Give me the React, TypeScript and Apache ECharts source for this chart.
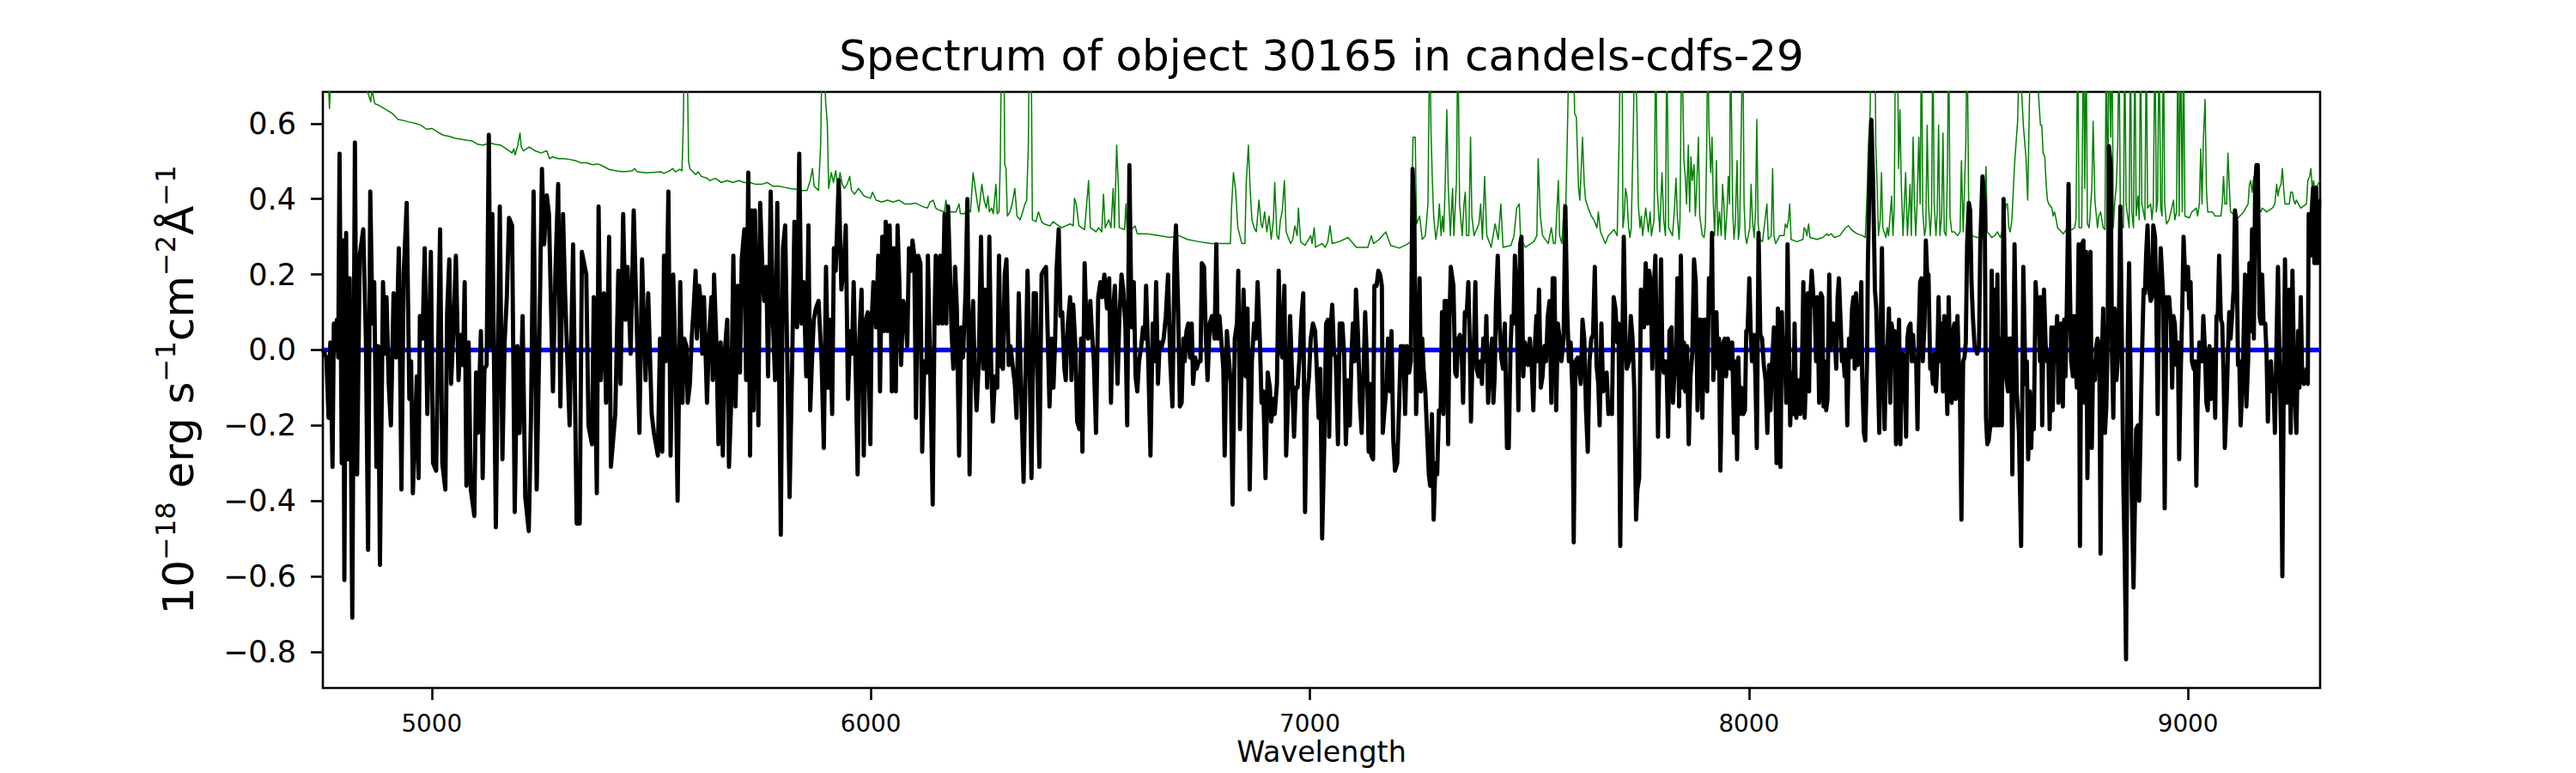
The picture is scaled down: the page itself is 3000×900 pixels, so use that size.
import React, { useEffect, useRef } from "react";
import * as echarts from "echarts";

const titleText = "Spectrum of object 30165 in candels-cdfs-29";
const xAxisTitle = "Wavelength";
const xTicks = [5000, 6000, 7000, 8000, 9000];
const yTicks = [-0.8, -0.6, -0.4, -0.2, 0, 0.2, 0.4, 0.6];
const xRange = [4752, 9301];
const yRange = [-0.896, 0.684];

// model (blue): flat zero line
const modelPts = [[4752, 0], [9301, 0]];

const fluxA = [[4752,0.00],[4760,-0.02],[4765,-0.18],[4769,0.02],[4774,-0.31],[4777,0.07],[4780,0.03],[4784,0.08],[4787,-0.02],[4790,0.52],[4795,-0.30],[4798,0.29],[4801,-0.61],[4805,0.31],[4808,-0.29],[4813,0.19],[4819,-0.71],[4825,0.55],[4830,-0.33],[4836,0.25],[4844,0.32],[4850,0.03],[4855,-0.53],[4860,0.42],[4865,0.07],[4869,0.18],[4874,-0.31],[4878,0.01],[4882,-0.57],[4889,0.18],[4894,-0.01],[4897,0.14],[4902,-0.09],[4907,-0.20],[4913,0.15],[4919,-0.02],[4925,0.27],[4931,-0.37],[4936,0.20],[4943,0.39],[4949,-0.13],[4953,-0.03],[4957,-0.38],[4966,-0.07],[4970,-0.34],[4973,0.09],[4979,0.03],[4984,0.27],[4990,-0.17],[4998,0.26],[5003,-0.30],[5010,-0.32],[5019,0.32],[5024,-0.30],[5031,-0.37],[5035,0.10],[5040,0.24],[5044,-0.09],[5049,0.04],[5055,0.25],[5061,-0.08],[5066,0.04],[5071,-0.04],[5075,0.18],[5079,-0.36],[5084,0.02],[5089,-0.37],[5097,-0.44],[5101,-0.06],[5105,-0.22],[5112,0.05],[5116,-0.34],[5120,-0.05],[5125,-0.04],[5130,0.57],[5134,0.01],[5138,0.36],[5146,-0.47],[5155,0.38],[5161,-0.29],[5166,0.02],[5171,0.14],[5176,0.35],[5183,0.33],[5189,-0.43],[5195,0.01],[5200,-0.22],[5207,0.09],[5213,-0.39],[5221,-0.48],[5226,-0.18],[5232,0.42],[5239,-0.37],[5245,0.02],[5251,0.48],[5256,0.28],[5262,0.41],[5267,0.36],[5276,-0.11],[5282,0.22],[5288,0.44],[5293,-0.15],[5299,0.36],[5304,0.14],[5314,-0.20],[5322,0.28],[5330,-0.46],[5337,-0.46],[5342,0.26],[5352,0.20],[5357,-0.20],[5365,-0.25],[5369,0.14],[5376,-0.38],[5380,0.38],[5385,-0.08],[5392,0.15],[5397,-0.14],[5404,0.30],[5408,-0.31],[5418,-0.17],[5425,0.21],[5430,-0.09],[5436,0.36],[5441,0.08],[5446,0.22],[5453,-0.01],[5460,0.37],[5466,0.11],[5473,-0.22],[5479,0.24],[5487,-0.08],[5493,0.15],[5501,-0.17],[5506,-0.22],[5515,-0.28],[5520,0.03]];
const fluxB = [[5525,-0.27],[5529,0.25],[5533,-0.03],[5539,0.42],[5544,-0.28],[5550,0.20],[5555,-0.02],[5560,-0.40],[5566,0.18],[5571,-0.14],[5575,0.03],[5580,0.01],[5583,-0.14],[5588,-0.09],[5592,0.03],[5596,0.10],[5601,0.21],[5604,0.03],[5609,0.17],[5614,0.11],[5616,-0.01],[5620,0.14],[5627,-0.14],[5631,0.02],[5637,0.14],[5640,-0.08],[5643,0.20],[5648,0.03],[5653,-0.25],[5658,0.02],[5663,-0.28],[5667,-0.01],[5673,0.08],[5677,-0.31],[5682,-0.14],[5687,0.25],[5692,-0.15],[5697,0.17],[5702,-0.06],[5706,0.24],[5712,0.32],[5716,-0.08],[5721,0.47],[5725,-0.28],[5729,0.37],[5733,-0.16],[5736,0.37],[5741,0.07],[5744,-0.20],[5748,0.39],[5753,0.22],[5757,0.13],[5762,0.22],[5766,-0.07],[5772,0.42],[5777,0.08],[5782,-0.08],[5787,0.39],[5791,-0.03],[5795,-0.49],[5800,0.27],[5805,0.33],[5809,0.03],[5815,-0.39],[5821,-0.03],[5826,0.34],[5832,0.06],[5837,0.52],[5842,0.07],[5847,0.18],[5853,-0.07],[5858,0.33],[5862,-0.16],[5866,-0.03],[5870,0.08],[5875,0.11],[5881,0.13],[5888,-0.03],[5893,-0.26],[5898,0.22],[5903,-0.10],[5907,0.08],[5912,-0.17],[5916,0.27],[5920,0.21],[5927,0.45],[5933,0.16],[5939,0.23],[5943,0.33],[5948,-0.13],[5953,0.05],[5957,-0.01],[5961,0.18],[5966,-0.08],[5970,-0.33],[5974,0.03],[5979,0.16],[5984,-0.28],[5989,0.08],[5993,0.10],[5999,-0.25],[6002,0.08],[6006,0.18],[6012,0.06],[6017,0.25],[6021,-0.11],[6026,0.30],[6030,0.05],[6034,0.34],[6038,0.05],[6043,0.33],[6048,-0.11],[6052,0.27],[6057,-0.11],[6061,0.33],[6065,0.18],[6069,-0.04],[6074,0.13],[6078,0.11],[6083,0.01],[6087,0.27],[6092,0.21],[6095,0.29],[6099,0.25],[6103,-0.18],[6108,0.25],[6113,0.23],[6117,-0.27],[6122,-0.03],[6127,-0.06],[6130,0.25],[6135,-0.03],[6141,-0.41],[6145,0.07],[6148,0.25],[6154,0.07],[6158,0.25],[6163,0.07],[6168,0.36],[6172,0.07],[6176,0.38],[6181,0.18],[6184,0.05],[6188,-0.05],[6192,0.22],[6196,0.11],[6201,-0.28],[6206,0.06],[6210,-0.02],[6216,0.16],[6220,0.40],[6225,-0.33],[6229,0.03],[6233,0.13],[6236,-0.03],[6241,-0.16],[6246,-0.03],[6251,0.30],[6256,-0.05],[6261,0.16]];
const fluxC = [[6265,-0.10],[6270,0.30],[6274,-0.03],[6278,-0.19],[6283,-0.07],[6288,-0.10],[6292,0.25],[6296,-0.04],[6301,-0.05],[6305,0.20],[6309,0.24],[6314,-0.04],[6318,0.01],[6324,-0.05],[6328,-0.09],[6332,-0.18],[6337,0.15],[6342,-0.09],[6348,-0.35],[6353,-0.03],[6357,0.21],[6362,-0.06],[6366,-0.34],[6371,0.15],[6376,0.15],[6379,-0.05],[6384,-0.31],[6389,0.20],[6393,0.21],[6399,0.22],[6403,0.04],[6407,-0.15],[6412,0.03],[6416,-0.10],[6420,0.03],[6423,0.21],[6428,0.32],[6432,0.09],[6436,0.10],[6441,-0.05],[6444,-0.08],[6449,0.07],[6454,0.14],[6457,-0.08],[6461,0.12],[6466,0.01],[6470,-0.19],[6475,-0.21],[6479,0.03],[6482,-0.27],[6487,0.23],[6491,0.07],[6495,0.03],[6500,0.13],[6503,0.06],[6508,-0.03],[6513,-0.22],[6518,0.14],[6523,0.18],[6527,0.14],[6532,0.20],[6538,0.11],[6543,0.19],[6547,-0.14],[6552,0.11],[6556,0.17],[6562,-0.09],[6566,0.08],[6571,0.20],[6575,0.16],[6580,0.06],[6584,-0.20],[6589,0.49],[6594,0.06],[6599,0.18],[6603,-0.07],[6607,-0.11],[6611,-0.03],[6616,0.01],[6620,0.06],[6624,0.03],[6627,0.17],[6632,-0.03],[6637,-0.28],[6642,0.07],[6646,-0.03],[6650,0.18],[6654,-0.09],[6658,0.02],[6663,0.01],[6667,0.03],[6672,0.09],[6677,0.20],[6682,-0.03],[6687,-0.15],[6692,0.25],[6695,0.33],[6700,0.11],[6704,-0.15],[6708,-0.14],[6712,0.03],[6715,-0.03],[6719,0.05],[6723,0.07],[6727,-0.02],[6731,0.07],[6734,-0.09],[6739,-0.02],[6742,-0.05],[6747,-0.03],[6751,-0.03],[6754,0.23],[6759,0.22],[6763,0.04],[6767,-0.08],[6772,0.07],[6777,0.09],[6783,0.03],[6787,0.28],[6790,0.03],[6794,0.09],[6798,0.03],[6803,-0.05],[6806,-0.28],[6811,0.05],[6816,-0.03],[6820,-0.09],[6824,-0.41],[6829,0.03],[6834,0.07],[6837,0.21],[6841,-0.21],[6845,-0.03],[6849,0.16],[6854,-0.07],[6858,0.11],[6863,-0.37],[6868,-0.03],[6873,0.07],[6877,0.03],[6881,0.18],[6886,0.03],[6890,-0.14],[6894,-0.11],[6899,-0.34],[6904,-0.06],[6909,-0.10],[6912,-0.19],[6917,-0.13],[6920,-0.17],[6925,-0.09],[6929,0.21],[6933,0.01],[6937,-0.02],[6942,0.17],[6946,-0.28],[6950,-0.14],[6955,0.09],[6959,-0.05],[6964,-0.23],[6968,-0.10],[6972,-0.10],[6977,-0.01],[6981,0.09],[6985,0.15],[6989,-0.43],[6993,-0.14],[6998,-0.07],[7002,0.03],[7007,0.07],[7012,0.05],[7015,-0.03],[7020,-0.18],[7024,-0.05],[7028,-0.50],[7033,-0.24],[7037,0.07],[7041,0.08]];
const fluxD = [[7044,-0.23],[7048,0.07],[7051,0.12],[7055,-0.01],[7059,-0.02],[7064,-0.25],[7068,0.07],[7074,0.07],[7078,-0.01],[7082,-0.25],[7087,-0.08],[7091,-0.20],[7095,-0.01],[7098,0.07],[7102,-0.03],[7105,0.16],[7110,0.03],[7114,-0.14],[7118,-0.22],[7123,-0.03],[7126,0.10],[7130,-0.03],[7134,-0.27],[7138,-0.09],[7140,-0.28],[7144,-0.29],[7147,0.17],[7152,0.17],[7156,0.21],[7160,0.20],[7164,0.17],[7166,-0.22],[7170,-0.16],[7175,-0.09],[7178,0.03],[7183,-0.11],[7186,0.05],[7190,-0.24],[7194,-0.32],[7199,-0.30],[7203,-0.16],[7207,0.01],[7211,-0.05],[7213,0.01],[7217,-0.17],[7221,0.01],[7224,-0.03],[7226,-0.06],[7230,-0.03],[7234,0.48],[7238,0.36],[7242,-0.17],[7246,-0.03],[7250,0.19],[7253,-0.11],[7256,0.03],[7259,-0.05],[7263,-0.11],[7267,-0.22],[7271,-0.33],[7274,-0.36],[7278,-0.17],[7282,-0.45],[7286,-0.30],[7290,-0.33],[7294,-0.16],[7298,-0.16],[7301,0.10],[7304,-0.17],[7307,0.13],[7311,0.13],[7315,-0.25],[7318,0.08],[7321,0.22],[7327,0.17],[7331,-0.06],[7334,-0.07],[7338,0.03],[7342,0.04],[7346,-0.01],[7349,-0.14],[7353,0.10],[7357,0.09],[7361,0.18],[7364,0.03],[7367,-0.19],[7370,-0.04],[7374,0.03],[7377,0.18],[7380,-0.05],[7384,-0.07],[7388,-0.03],[7392,-0.09],[7395,0.03],[7399,-0.03],[7402,0.09],[7406,-0.14],[7411,-0.02],[7415,0.03],[7418,-0.14],[7421,-0.07],[7424,0.13],[7428,0.25],[7432,0.07],[7436,-0.02],[7440,-0.05],[7444,0.07],[7449,-0.26],[7453,-0.26],[7457,0.00],[7460,0.09],[7464,0.07],[7467,0.25],[7471,0.15],[7475,-0.16],[7479,0.28],[7482,0.30],[7486,-0.07],[7490,0.02],[7494,-0.03],[7497,-0.04],[7501,0.03],[7505,-0.03],[7509,-0.16],[7513,0.02],[7516,0.09],[7518,-0.03],[7522,0.16],[7526,-0.10],[7530,-0.07],[7534,0.01],[7538,-0.03],[7542,0.09],[7546,0.13],[7550,-0.14],[7553,0.19],[7557,0.19],[7561,-0.16],[7565,0.07],[7569,0.03],[7573,-0.03],[7578,0.03],[7582,0.38],[7586,0.11],[7590,-0.03],[7594,0.02],[7598,-0.11],[7601,-0.51],[7605,-0.03],[7610,-0.02],[7613,-0.05],[7617,-0.09],[7621,0.08],[7625,0.03],[7629,-0.16],[7633,-0.27],[7637,-0.03],[7641,0.03],[7645,0.04],[7649,0.22],[7653,-0.04],[7657,-0.09],[7660,-0.20],[7664,0.07],[7668,-0.11],[7672,-0.07],[7676,-0.06],[7680,-0.17],[7684,-0.14],[7688,-0.17],[7692,0.14],[7696,0.11],[7700,0.02],[7703,0.07],[7707,-0.52],[7711,-0.06],[7715,0.30],[7719,0.02],[7722,-0.05],[7727,-0.03],[7731,0.09],[7735,0.03],[7739,-0.11],[7743,-0.45],[7746,-0.37],[7750,-0.34],[7754,0.16],[7757,0.11],[7761,0.06],[7765,0.23],[7769,0.07],[7773,0.21],[7776,0.18],[7780,-0.05],[7783,0.15],[7787,0.25]];
const fluxE = [[7793,-0.23],[7797,0.03],[7800,0.24],[7803,-0.03],[7806,-0.06],[7810,-0.03],[7813,-0.07],[7816,-0.23],[7819,0.05],[7824,0.06],[7827,-0.14],[7830,-0.07],[7834,-0.05],[7837,0.19],[7841,-0.15],[7845,0.25],[7849,-0.10],[7852,0.02],[7855,-0.11],[7859,0.01],[7863,-0.25],[7867,-0.07],[7871,-0.01],[7875,0.24],[7879,0.18],[7883,-0.16],[7886,0.08],[7890,0.08],[7894,-0.18],[7898,0.08],[7901,0.08],[7905,-0.11],[7909,0.19],[7913,0.10],[7916,0.31],[7919,-0.08],[7922,0.06],[7926,0.10],[7929,-0.05],[7932,0.03],[7935,-0.32],[7939,-0.07],[7942,0.02],[7945,0.03],[7948,-0.07],[7952,0.03],[7955,0.01],[7958,-0.05],[7962,0.02],[7966,-0.22],[7970,-0.03],[7973,-0.29],[7976,-0.02],[7979,-0.17],[7983,-0.10],[7987,-0.17],[7991,-0.16],[7994,0.05],[7997,0.05],[8001,0.19],[8004,0.05],[8007,-0.03],[8012,0.04],[8015,-0.08],[8018,-0.26],[8022,0.31],[8026,0.04],[8030,0.03],[8034,-0.04],[8038,-0.08],[8042,-0.22],[8046,-0.04],[8049,-0.16],[8053,-0.03],[8057,0.06],[8060,-0.07],[8063,-0.30],[8066,0.11],[8069,-0.28],[8072,-0.31],[8075,0.10],[8078,-0.05],[8081,0.03],[8085,-0.14],[8088,0.28],[8091,0.03],[8094,-0.20],[8098,-0.06],[8101,-0.17],[8104,0.07],[8108,-0.18],[8111,-0.14],[8114,-0.08],[8117,-0.17],[8121,-0.03],[8124,0.18],[8127,-0.18],[8130,-0.07],[8134,0.15],[8137,-0.11],[8140,0.14],[8143,0.21],[8147,0.14],[8150,0.11],[8153,-0.03],[8156,0.14],[8160,-0.14],[8164,0.15],[8167,0.14],[8170,-0.15],[8173,-0.03],[8176,-0.16],[8179,-0.13],[8183,0.20],[8186,0.00],[8189,0.05],[8192,0.07],[8196,0.02],[8199,-0.05],[8202,0.14],[8205,0.19],[8209,0.07],[8212,-0.03],[8215,-0.01],[8218,-0.07],[8221,0.00],[8224,-0.20],[8228,0.03],[8231,-0.02],[8235,0.11],[8238,0.14],[8241,-0.05],[8244,0.15],[8248,-0.04],[8252,0.03],[8256,0.18],[8258,-0.07],[8262,-0.22],[8265,-0.24],[8269,-0.03],[8271,0.23],[8274,0.41],[8279,0.61],[8283,0.44],[8287,0.16],[8290,0.11],[8293,-0.03],[8297,-0.22],[8300,0.03],[8303,0.27],[8306,-0.03],[8309,-0.21],[8312,-0.05],[8316,0.02],[8319,0.11],[8322,-0.14],[8325,0.07],[8329,0.02],[8332,0.05],[8335,-0.25],[8338,-0.05],[8342,0.08],[8345,-0.25],[8348,-0.08],[8351,-0.01],[8355,-0.03],[8358,-0.23],[8361,0.03],[8364,0.06],[8368,0.07],[8371,-0.03],[8374,0.04],[8377,-0.03],[8381,-0.03],[8384,-0.21],[8387,0.05],[8390,0.18],[8393,0.19],[8396,-0.03],[8400,0.07],[8403,0.29],[8406,0.20],[8409,0.20],[8413,-0.05],[8416,-0.03],[8419,-0.09],[8422,-0.01],[8426,-0.11],[8429,-0.03],[8432,0.14],[8435,-0.03],[8439,0.07],[8442,-0.11],[8445,0.09],[8449,-0.05],[8452,-0.17],[8455,0.14],[8458,-0.03],[8462,-0.14],[8465,0.05],[8468,0.07],[8471,-0.13],[8475,0.09],[8478,-0.03],[8481,-0.14],[8484,-0.45],[8488,-0.03],[8491,-0.02],[8494,0.02],[8497,0.28],[8501,0.39],[8504,0.37],[8507,0.18],[8510,0.09],[8514,0.01],[8517,0.00],[8520,-0.01],[8524,0.01],[8527,0.28],[8532,0.46],[8537,0.39],[8540,-0.18],[8543,-0.25],[8546,-0.24],[8550,-0.20],[8553,0.21]];
const fluxF = [[8556,-0.20],[8560,0.16],[8563,-0.20],[8566,0.20],[8569,-0.20],[8573,0.03],[8576,-0.20],[8580,0.40],[8586,-0.07],[8590,-0.11],[8593,0.03],[8597,0.03],[8600,-0.33],[8605,0.28],[8610,-0.11],[8615,-0.22],[8620,-0.52],[8625,0.22],[8630,-0.09],[8633,-0.03],[8636,-0.29],[8640,-0.11],[8643,-0.26],[8646,-0.13],[8649,-0.21],[8653,0.18],[8656,0.11],[8659,0.14],[8663,-0.03],[8665,0.14],[8668,-0.20],[8672,0.16],[8676,0.01],[8679,-0.03],[8682,-0.01],[8685,-0.21],[8689,0.06],[8692,-0.16],[8695,0.06],[8698,-0.03],[8702,0.09],[8705,-0.14],[8708,-0.03],[8711,0.07],[8715,-0.15],[8718,0.08],[8721,-0.07],[8724,0.11],[8728,0.44],[8731,0.18],[8734,-0.03],[8738,-0.07],[8741,0.09],[8744,-0.03],[8747,-0.10],[8751,0.28],[8754,-0.52],[8758,0.28],[8762,0.29],[8765,-0.14],[8768,0.26],[8771,-0.34],[8775,0.07],[8778,0.26],[8781,-0.26],[8784,-0.03],[8788,-0.08],[8791,0.01],[8794,0.03],[8798,0.01],[8801,-0.54],[8804,-0.01],[8807,0.11],[8811,-0.22],[8814,-0.15],[8817,0.02],[8820,0.54],[8824,0.49],[8827,-0.01],[8830,-0.18],[8833,0.11],[8837,-0.08],[8840,-0.03],[8843,0.11],[8846,0.38],[8850,-0.03],[8853,-0.37],[8856,-0.55],[8859,-0.82],[8863,0.03],[8866,0.23],[8869,-0.05],[8872,-0.38],[8876,-0.63],[8879,-0.42],[8882,-0.21],[8886,-0.20],[8889,-0.40],[8892,-0.22],[8895,-0.03],[8899,0.16],[8902,0.15],[8905,0.26],[8908,0.33],[8912,0.16],[8915,0.13],[8918,0.14],[8921,0.33],[8925,0.30],[8928,0.11],[8931,-0.17],[8934,0.11],[8938,0.27],[8941,0.20],[8944,0.13],[8947,-0.42],[8951,0.14],[8954,0.10],[8957,0.14],[8961,0.07],[8964,-0.10],[8967,0.09],[8970,0.07],[8974,-0.04],[8977,0.02],[8980,-0.29],[8983,-0.09],[8987,0.11],[8990,0.30],[8993,0.21],[8996,0.16],[9000,0.22],[9003,0.11],[9006,0.18],[9009,-0.03],[9013,-0.05],[9016,-0.03],[9019,-0.36],[9022,-0.14],[9026,0.02],[9029,0.01],[9032,-0.03],[9035,0.09],[9039,-0.01],[9042,-0.14],[9045,-0.16],[9049,0.01],[9052,-0.13],[9055,-0.09],[9058,0.00],[9062,-0.18],[9065,0.09],[9068,0.09],[9071,0.25],[9075,0.08],[9078,0.07],[9081,-0.06],[9084,-0.26],[9088,-0.14],[9091,-0.01],[9094,0.10],[9097,0.03],[9101,0.10],[9104,0.16],[9107,0.37],[9110,0.34],[9114,-0.04],[9117,-0.03],[9120,-0.20],[9124,-0.09],[9127,0.05],[9130,0.20],[9133,-0.15],[9137,-0.03],[9140,0.23],[9143,0.05],[9146,0.32],[9150,0.03],[9153,0.43],[9156,0.49],[9159,0.49],[9163,0.09],[9166,0.07],[9169,0.20],[9172,0.07],[9176,0.07],[9179,-0.01],[9182,-0.19],[9185,-0.05],[9189,-0.03],[9192,-0.11],[9195,-0.09],[9198,-0.22],[9202,0.04],[9205,0.22],[9208,0.01],[9212,-0.22],[9215,-0.60],[9218,-0.11],[9221,0.24],[9225,-0.14],[9228,-0.09],[9231,0.16],[9234,-0.22],[9238,0.21],[9241,-0.01],[9244,-0.14],[9247,-0.22],[9251,0.05],[9254,-0.10],[9257,0.14],[9260,-0.06],[9264,-0.09],[9267,-0.07],[9270,-0.05],[9273,-0.09],[9275,0.36],[9279,0.25],[9282,0.37],[9285,0.43],[9288,0.23],[9292,0.43],[9295,0.23],[9299,0.40]];

// sky / noise spectrum (green)
const skyA = [[4752,0.80],[4762,0.76],[4765,0.70],[4767,0.64],[4770,0.72],[4805,0.76],[4851,0.70],[4854,0.684],[4861,0.658],[4864,0.69],[4870,0.653],[4880,0.648],[4896,0.637],[4910,0.627],[4923,0.611],[4936,0.608],[4949,0.604],[4962,0.601],[4975,0.596],[4988,0.585],[5001,0.587],[5014,0.577],[5027,0.569],[5040,0.566],[5053,0.561],[5066,0.559],[5079,0.556],[5092,0.554],[5105,0.545],[5118,0.543],[5131,0.549],[5144,0.545],[5157,0.543],[5170,0.533],[5183,0.522],[5187,0.533],[5190,0.517],[5196,0.543],[5201,0.575],[5204,0.538],[5209,0.528],[5222,0.538],[5235,0.528],[5249,0.522],[5262,0.528],[5268,0.507],[5275,0.512],[5288,0.507],[5301,0.507],[5314,0.505],[5327,0.502],[5340,0.496],[5353,0.496],[5366,0.491],[5379,0.493],[5392,0.486],[5405,0.478],[5418,0.475],[5431,0.473],[5444,0.473],[5457,0.475],[5462,0.481],[5467,0.473],[5483,0.470],[5496,0.470],[5522,0.472]];
const skyB = [[5529,0.468],[5542,0.475],[5549,0.481],[5555,0.472],[5565,0.479],[5570,0.475],[5573,0.60],[5576,0.85],[5581,0.85],[5585,0.50],[5588,0.481],[5601,0.465],[5607,0.472],[5614,0.460],[5627,0.455],[5633,0.449],[5646,0.455],[5659,0.444],[5673,0.449],[5686,0.444],[5699,0.449],[5712,0.444],[5725,0.444],[5738,0.439],[5751,0.439],[5764,0.444],[5777,0.434],[5790,0.434],[5803,0.431],[5816,0.428],[5829,0.426],[5842,0.423],[5855,0.423],[5862,0.449],[5867,0.481],[5871,0.434],[5881,0.423],[5886,0.55],[5889,0.80],[5894,0.80],[5897,0.66],[5901,0.60],[5904,0.428],[5910,0.470],[5915,0.444],[5920,0.475],[5925,0.434],[5930,0.470],[5935,0.439],[5940,0.428],[5946,0.439],[5952,0.460],[5956,0.423],[5963,0.413],[5972,0.428],[5985,0.408],[5999,0.402],[6004,0.418],[6012,0.397],[6025,0.392],[6038,0.397],[6051,0.392],[6064,0.397],[6077,0.387],[6090,0.387],[6103,0.389],[6116,0.381],[6129,0.376],[6135,0.392],[6142,0.397],[6148,0.376],[6155,0.371],[6168,0.366],[6171,0.397],[6175,0.371],[6181,0.366],[6194,0.366],[6201,0.387],[6204,0.361],[6214,0.361],[6220,0.376],[6227,0.366],[6233,0.470],[6238,0.428],[6243,0.387],[6246,0.366],[6253,0.439],[6258,0.397],[6263,0.376],[6267,0.408]];
const skyC = [[6270,0.366],[6275,0.376],[6279,0.361],[6285,0.439],[6288,0.361],[6292,0.366],[6295,0.50],[6298,0.85],[6303,0.85],[6305,0.491],[6308,0.481],[6311,0.355],[6317,0.366],[6322,0.387],[6328,0.428],[6333,0.355],[6340,0.345],[6346,0.366],[6351,0.387],[6355,0.397],[6359,0.55],[6361,0.85],[6365,0.85],[6368,0.345],[6376,0.340],[6382,0.366],[6389,0.340],[6395,0.334],[6408,0.329],[6415,0.340],[6428,0.329],[6435,0.324],[6454,0.334],[6461,0.329],[6464,0.402],[6468,0.387],[6474,0.329],[6487,0.319],[6496,0.449],[6500,0.324],[6513,0.313],[6519,0.324],[6526,0.313],[6530,0.413],[6534,0.324],[6542,0.345],[6547,0.324],[6552,0.428],[6555,0.324],[6560,0.543],[6564,0.428],[6566,0.324],[6578,0.319],[6581,0.387],[6584,0.313],[6598,0.324],[6602,0.329],[6607,0.308],[6630,0.308],[6656,0.303],[6682,0.298],[6702,0.303],[6721,0.293],[6747,0.287],[6774,0.282],[6819,0.282],[6822,0.387],[6826,0.470],[6831,0.423],[6836,0.324],[6845,0.282],[6852,0.282],[6855,0.439],[6860,0.543],[6864,0.428],[6868,0.345],[6873,0.324],[6878,0.313],[6884,0.397],[6889,0.334],[6892,0.324],[6897,0.366],[6902,0.313],[6907,0.355],[6912,0.293],[6917,0.345],[6920,0.444],[6925,0.303],[6929,0.293],[6933,0.345],[6937,0.366],[6942,0.449],[6946,0.313],[6956,0.282],[6961,0.293],[6966,0.329],[6971,0.303],[6974,0.376],[6979,0.287],[6989,0.277],[7002,0.303],[7005,0.282],[7010,0.324],[7013,0.272],[7028,0.282]];
const skyD = [[7035,0.272],[7041,0.287],[7046,0.329],[7051,0.282],[7067,0.287],[7087,0.298],[7106,0.272],[7132,0.272],[7140,0.303],[7145,0.282],[7158,0.293],[7173,0.313],[7184,0.277],[7204,0.270],[7224,0.282],[7230,0.287],[7235,0.564],[7240,0.564],[7243,0.334],[7250,0.355],[7256,0.293],[7263,0.303],[7269,0.387],[7273,0.85],[7276,0.575],[7279,0.449],[7282,0.355],[7287,0.293],[7292,0.334],[7295,0.387],[7299,0.303],[7302,0.355],[7305,0.313],[7308,0.428],[7312,0.637],[7315,0.439],[7320,0.303],[7325,0.428],[7328,0.303],[7334,0.449],[7337,0.85],[7341,0.387],[7347,0.303],[7351,0.387],[7354,0.418],[7357,0.303],[7362,0.303],[7366,0.564],[7369,0.355],[7374,0.303],[7385,0.334],[7389,0.387],[7393,0.293],[7398,0.460],[7403,0.303],[7413,0.272],[7422,0.334],[7429,0.293],[7435,0.387],[7440,0.272],[7458,0.277],[7465,0.303],[7471,0.376],[7477,0.387],[7480,0.293],[7491,0.272],[7510,0.287],[7517,0.303],[7520,0.507],[7525,0.355],[7530,0.303],[7543,0.282],[7550,0.324],[7555,0.282],[7559,0.282],[7566,0.449],[7569,0.303],[7574,0.282],[7579,0.387],[7582,0.324],[7587,0.60],[7591,0.85],[7600,0.85],[7603,0.627],[7607,0.617],[7612,0.428],[7615,0.397],[7621,0.564],[7625,0.439],[7628,0.397],[7634,0.376],[7641,0.355],[7647,0.345],[7654,0.324],[7657,0.366],[7662,0.313],[7673,0.282],[7680,0.303],[7693,0.319],[7700,0.303],[7705,0.60],[7707,0.85],[7711,0.85],[7713,0.324],[7716,0.355],[7719,0.428],[7722,0.408],[7726,0.324],[7729,0.298],[7732,0.324],[7737,0.60],[7740,0.85],[7745,0.627],[7748,0.387],[7752,0.324],[7755,0.355],[7758,0.303],[7765,0.376],[7771,0.313],[7775,0.366],[7778,0.303],[7784,0.345],[7788,0.85],[7791,0.428]];
const skyE = [[7797,0.313],[7802,0.470],[7806,0.345],[7810,0.303],[7813,0.85],[7817,0.324],[7826,0.303],[7830,0.366],[7834,0.455],[7837,0.355],[7841,0.293],[7843,0.345],[7847,0.85],[7852,0.502],[7855,0.460],[7858,0.387],[7862,0.543],[7865,0.366],[7868,0.512],[7871,0.449],[7875,0.491],[7878,0.355],[7881,0.428],[7885,0.564],[7888,0.355],[7894,0.303],[7898,0.298],[7901,0.334],[7904,0.543],[7906,0.85],[7909,0.596],[7913,0.470],[7916,0.564],[7919,0.387],[7922,0.303],[7926,0.502],[7929,0.303],[7933,0.366],[7937,0.303],[7940,0.439],[7943,0.387],[7946,0.293],[7950,0.366],[7953,0.460],[7956,0.387],[7958,0.85],[7963,0.376],[7966,0.293],[7969,0.334],[7973,0.502],[7976,0.293],[7979,0.324],[7982,0.543],[7986,0.85],[7989,0.387],[7992,0.303],[7995,0.282],[8002,0.324],[8005,0.439],[8008,0.345],[8012,0.298],[8015,0.366],[8018,0.611],[8021,0.334],[8025,0.293],[8031,0.287],[8041,0.387],[8044,0.293],[8051,0.303],[8054,0.481],[8057,0.303],[8061,0.282],[8070,0.303],[8080,0.303],[8083,0.334],[8087,0.324],[8090,0.345],[8093,0.387],[8096,0.293],[8109,0.287],[8123,0.293],[8126,0.324],[8129,0.319],[8132,0.303],[8136,0.334],[8139,0.298],[8155,0.293],[8168,0.298],[8178,0.308],[8181,0.303],[8188,0.308],[8194,0.298],[8207,0.303],[8220,0.324],[8227,0.329],[8233,0.319],[8246,0.308],[8259,0.303],[8265,0.298],[8269,0.408],[8272,0.543],[8276,0.627],[8279,0.85],[8287,0.85],[8289,0.543],[8292,0.439],[8295,0.303],[8299,0.345],[8302,0.470],[8305,0.324],[8312,0.298],[8315,0.324],[8318,0.303],[8321,0.345],[8325,0.408],[8328,0.303],[8331,0.376],[8334,0.85],[8338,0.85],[8341,0.481],[8344,0.637],[8347,0.439],[8351,0.303],[8354,0.387],[8357,0.470],[8361,0.303],[8364,0.366],[8367,0.439],[8370,0.303],[8374,0.564],[8377,0.387],[8380,0.303],[8383,0.387],[8387,0.564],[8390,0.387],[8393,0.85],[8396,0.366],[8400,0.303],[8403,0.324],[8406,0.596],[8409,0.387],[8413,0.303],[8416,0.366],[8419,0.85],[8422,0.387],[8426,0.303],[8429,0.366],[8432,0.596],[8435,0.303],[8439,0.355],[8442,0.575],[8445,0.313],[8449,0.303],[8452,0.460],[8455,0.85],[8458,0.355],[8462,0.313],[8468,0.313],[8475,0.303],[8481,0.313],[8484,0.502],[8488,0.313],[8494,0.543],[8497,0.85],[8501,0.324],[8507,0.303],[8520,0.298],[8533,0.298],[8540,0.486],[8543,0.313],[8553,0.298]];
const skyF = [[8560,0.303],[8566,0.313],[8573,0.298],[8579,0.324],[8586,0.387],[8589,0.387],[8592,0.324],[8595,0.313],[8599,0.345],[8605,0.491],[8612,0.606],[8616,0.80],[8625,0.596],[8631,0.512],[8635,0.397],[8638,0.596],[8641,0.80],[8654,0.80],[8661,0.65],[8664,0.596],[8667,0.596],[8670,0.522],[8674,0.512],[8677,0.439],[8680,0.397],[8683,0.387],[8690,0.376],[8693,0.355],[8696,0.366],[8700,0.345],[8703,0.324],[8716,0.308],[8723,0.319],[8736,0.319],[8742,0.324],[8745,0.345],[8749,0.85],[8752,0.324],[8758,0.324],[8762,0.85],[8765,0.428],[8768,0.85],[8771,0.334],[8775,0.324],[8781,0.428],[8784,0.606],[8788,0.397],[8794,0.324],[8797,0.355],[8801,0.366],[8807,0.324],[8811,0.319],[8814,0.85],[8817,0.324],[8820,0.85],[8824,0.564],[8827,0.85],[8830,0.324],[8833,0.387],[8837,0.439],[8840,0.543],[8843,0.85],[8846,0.345],[8853,0.324],[8856,0.85],[8859,0.387],[8866,0.324],[8869,0.85],[8872,0.366],[8876,0.324],[8879,0.85],[8882,0.355],[8886,0.408],[8889,0.345],[8892,0.85],[8895,0.387],[8902,0.345],[8905,0.85],[8908,0.376],[8915,0.387],[8918,0.345],[8921,0.387],[8925,0.85],[8928,0.366],[8931,0.397],[8934,0.85],[8938,0.376],[8941,0.355],[8944,0.85],[8947,0.387],[8951,0.334],[8957,0.345],[8967,0.397],[8970,0.345],[8974,0.366],[8977,0.85],[8980,0.355],[8983,0.85],[8987,0.366],[8990,0.85],[8993,0.355],[9003,0.350],[9009,0.366],[9019,0.376],[9022,0.355],[9026,0.387],[9029,0.533],[9032,0.387],[9035,0.554],[9039,0.664],[9042,0.428],[9045,0.366],[9055,0.366],[9062,0.355],[9075,0.355],[9078,0.387],[9081,0.460],[9084,0.387],[9088,0.387],[9091,0.522],[9094,0.439],[9097,0.366],[9114,0.350],[9127,0.366],[9137,0.387],[9140,0.439],[9143,0.449],[9146,0.418],[9150,0.460],[9153,0.428],[9156,0.397],[9159,0.376],[9166,0.366],[9169,0.376],[9179,0.366],[9192,0.376],[9198,0.387],[9202,0.439],[9205,0.408],[9208,0.428],[9212,0.439],[9215,0.481],[9218,0.428],[9221,0.387],[9231,0.387],[9234,0.418],[9238,0.418],[9241,0.397],[9244,0.387],[9247,0.397],[9257,0.376],[9270,0.387],[9273,0.449],[9277,0.460],[9280,0.481],[9283,0.428],[9286,0.449],[9290,0.418],[9296,0.439],[9301,0.45]];

const FONT = "DejaVu Sans";

function fmtY(v: number): string {
  if (Math.abs(v) < 1e-9) return "0.0";
  return (v < 0 ? "\u2212" : "") + Math.abs(v).toFixed(1);
}

export default function App() {
  const ref = useRef<HTMLDivElement>(null);
  useEffect(() => {
    if (!ref.current) return;
    const chart = echarts.init(ref.current, null, { renderer: "svg" });
    const flux = [...fluxA, ...fluxB, ...fluxC, ...fluxD, ...fluxE, ...fluxF];
    const sky = [...skyA, ...skyB, ...skyC, ...skyD, ...skyE, ...skyF];
    const option: any = {
      animation: false,
      backgroundColor: "#ffffff",
      grid: {
        left: 376,
        right: 298,
        top: 107,
        bottom: 99,
        show: true,
        borderColor: "#000",
        borderWidth: 2.6,
        backgroundColor: "transparent",
        containLabel: false,
      },
      xAxis: {
        type: "value",
        min: xRange[0],
        max: xRange[1],
        axisLine: { show: false, onZero: false },
        splitLine: { show: false },
        axisTick: {
          show: true,
          length: 14,
          lineStyle: { color: "#000", width: 2.6 },
          customValues: xTicks,
        },
        axisLabel: {
          customValues: xTicks,
          fontSize: 27.8,
          fontFamily: FONT,
          color: "#000",
          margin: 27,
          formatter: (v: number) => String(v),
        },
      },
      yAxis: {
        type: "value",
        min: yRange[0],
        max: yRange[1],
        axisLine: { show: false, onZero: false },
        splitLine: { show: false },
        axisTick: {
          show: true,
          length: 14,
          lineStyle: { color: "#000", width: 2.6 },
          customValues: yTicks,
        },
        axisLabel: {
          customValues: yTicks,
          fontSize: 35,
          fontFamily: FONT,
          color: "#000",
          margin: 31,
          formatter: fmtY,
        },
      },
      series: [
        {
          type: "line",
          data: sky,
          symbol: "none",
          silent: true,
          clip: true,
          z: 1,
          lineStyle: { color: "#008000", width: 1.5, join: "round" },
        },
        {
          type: "line",
          data: modelPts,
          symbol: "none",
          silent: true,
          clip: true,
          z: 2,
          lineStyle: { color: "#0000ff", width: 5.4 },
        },
        {
          type: "line",
          data: flux,
          symbol: "none",
          silent: true,
          clip: true,
          z: 3,
          lineStyle: { color: "#000000", width: 4.9, join: "round" },
        },
      ],
      graphic: [
        {
          type: "text",
          x: 1539,
          y: 65,
          style: {
            text: titleText,
            fontSize: 50,
            fontFamily: FONT,
            fill: "#000",
            align: "center",
            verticalAlign: "middle",
          },
        },
        {
          type: "text",
          x: 1539,
          y: 875,
          style: {
            text: xAxisTitle,
            fontSize: 33.3,
            fontFamily: FONT,
            fill: "#000",
            align: "center",
            verticalAlign: "middle",
          },
        },
        {
          type: "text",
          x: 205,
          y: 454,
          rotation: Math.PI / 2,
          style: {
            text: "{b|10}{s|\u221218}{b| erg s}{s|\u22121}{b|cm}{s|\u22122}{b|\u00c5}{s|\u22121}",
            fontSize: 50,
            fontFamily: FONT,
            fill: "#000",
            align: "center",
            verticalAlign: "middle",
            rich: {
              b: { fontSize: 50, fontFamily: FONT, fill: "#000", height: 50, lineHeight: 50, verticalAlign: "bottom" },
              s: { fontSize: 32, fontFamily: FONT, fill: "#000", height: 32, lineHeight: 56, verticalAlign: "top" },
            },
          },
        },
      ],
    };
    chart.setOption(option);
    return () => chart.dispose();
  }, []);
  return (
    <div
      ref={ref}
      style={{ position: "absolute", left: 0, top: 0, width: 3000, height: 900, background: "#fff" }}
    />
  );
}
